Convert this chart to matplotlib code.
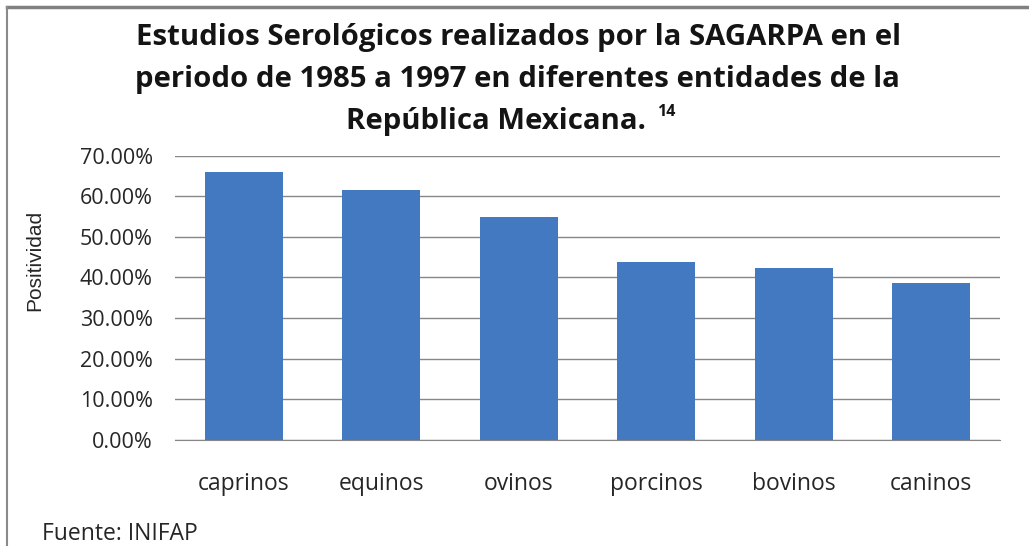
import matplotlib.pyplot as plt
from matplotlib.lines import Line2D
from matplotlib.ticker import FuncFormatter

especies = ['caprinos', 'equinos', 'ovinos', 'porcinos', 'bovinos', 'caninos']
positividad = [0.659, 0.614, 0.548, 0.437, 0.423, 0.386]
y_ticks = [0.0, 0.1, 0.2, 0.3, 0.4, 0.5, 0.6, 0.7]

titulo = ['Estudios Serológicos realizados por la SAGARPA en el',
          'periodo de 1985 a 1997 en diferentes entidades de la',
          'República Mexicana.']
nota = '14'
fuente = 'Fuente: INIFAP'

plt.rcParams['font.family'] = ['Open Sans', 'DejaVu Sans']

fig = plt.figure(figsize=(10.29, 5.46), dpi=100)
W, H = 1029, 546
ax = fig.add_axes([175 / W, 1 - 440 / H, 825 / W, (440 - 155.5) / H])

ax.bar(range(len(especies)), positividad, width=0.57, color='#4279c0', zorder=3)
ax.set_xlim(-0.5, len(especies) - 0.5)
ax.set_ylim(0, 0.7)
ax.set_yticks(y_ticks)
ax.yaxis.set_major_formatter(FuncFormatter(lambda v, p: f'{v * 100:.2f}%'))
ax.set_xticks(range(len(especies)))
ax.set_xticklabels(especies)
ax.grid(axis='y', color='#878787', linewidth=1, zorder=0)
for s in ['top', 'right', 'left']:
    ax.spines[s].set_visible(False)
ax.spines['bottom'].set_color('#878787')
ax.tick_params(axis='both', length=0, colors='#262626')
ax.tick_params(axis='x', pad=23, labelsize=16.5)
ax.tick_params(axis='y', pad=16, labelsize=15.5)
ax.set_ylabel('Positividad', fontsize=15, color='#262626', family='Liberation Sans')
ax.yaxis.set_label_coords(-131 / 825, 0.63)

# title, three centred lines
xs = [0.504, 0.503, 0.482]
for i, linea in enumerate(titulo):
    t = fig.text(xs[i], 1 - (37 + 42 * i) / H, linea, ha='center', va='center',
                 fontsize=21.2, fontweight='bold', color='#141414')
ax.annotate(nota, xy=(1, 0.8), xycoords=t, xytext=(8, 0), textcoords='offset points',
            ha='left', va='center', fontsize=11.5, fontweight='bold', color='#141414')

fig.text(42 / W, 1 - 534 / H, fuente, ha='left', va='center', fontsize=16.5, color='#262626')

# frame edges
fig.add_artist(Line2D([7 / W, 1], [1 - 6.5 / H, 1 - 6.5 / H], color='#808080', linewidth=2.5))
fig.add_artist(Line2D([7 / W, 7 / W], [0, 1 - 6.5 / H], color='#8a8a8a', linewidth=1.5))

fig.savefig('out.png', dpi=100)
